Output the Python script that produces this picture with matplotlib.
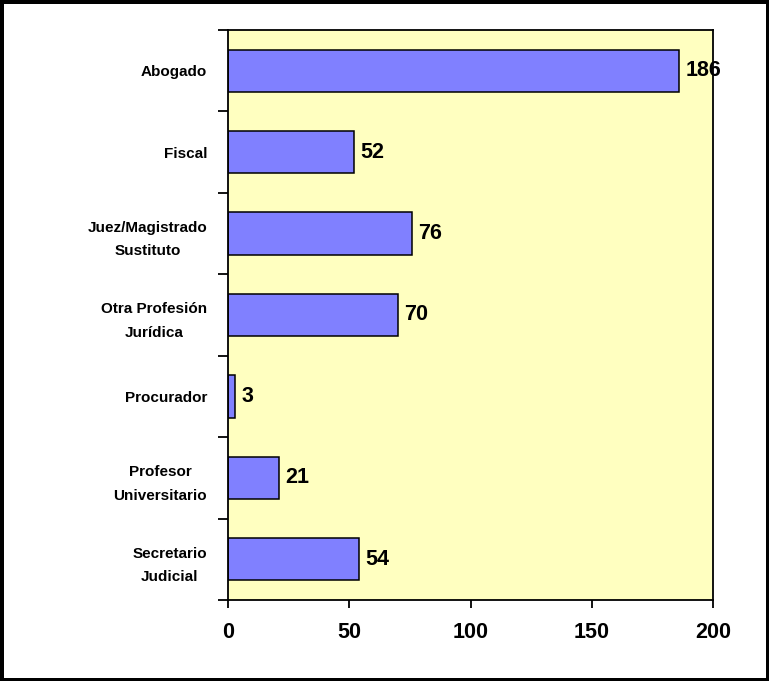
import numpy as np
import matplotlib
matplotlib.use('Agg')
import matplotlib.pyplot as plt

# Datos del gráfico
categorias = ['Abogado', 'Fiscal', 'Juez/Magistrado\nSustituto', 'Otra Profesión\nJurídica',
              'Procurador', 'Profesor\nUniversitario', 'Secretario\nJudicial']
valores = [186, 52, 76, 70, 3, 21, 54]
xticks = [0, 50, 100, 150, 200]

plt.rcParams['font.family'] = ['Liberation Sans', 'DejaVu Sans']

fig = plt.figure(figsize=(7.69, 6.81), dpi=100)
fig.patch.set_facecolor('white')
fig.patch.set_edgecolor('black')
fig.patch.set_linewidth(5)

ax = fig.add_axes([0.2965, 0.119, 0.6307, 0.837])
ax.set_facecolor('#FFFFC0')

y = np.arange(len(categorias))
ax.barh(y, valores, height=0.52, color='#8080FF', edgecolor='black', linewidth=1.1)

# Etiquetas de valor
for yi, v in zip(y, valores):
    ax.text(v + 2.5, yi, str(v), va='center', ha='left', fontsize=15.5, fontweight='bold')

ax.set_xlim(0, 200)
ax.set_ylim(len(categorias) - 0.5, -0.5)
ax.set_xticks(xticks)
ax.set_xticklabels([str(t) for t in xticks], fontsize=15.5, fontweight='bold')

# Ticks entre categorías
ax.set_yticks(np.arange(-0.5, len(categorias), 1.0))
ax.set_yticklabels([])
ax.set_yticks(y, minor=True)
ax.set_yticklabels(categorias, minor=True, fontsize=11, fontweight='bold',
                   multialignment='center', linespacing=1.85)
ax.tick_params(axis='y', which='minor', length=0, pad=15)
ax.tick_params(axis='y', which='major', length=7, width=1.3, direction='out')
ax.tick_params(axis='x', length=6, width=1.3, direction='out', pad=10)

for s in ax.spines.values():
    s.set_linewidth(1.3)

fig.savefig('out.png', dpi=100)
